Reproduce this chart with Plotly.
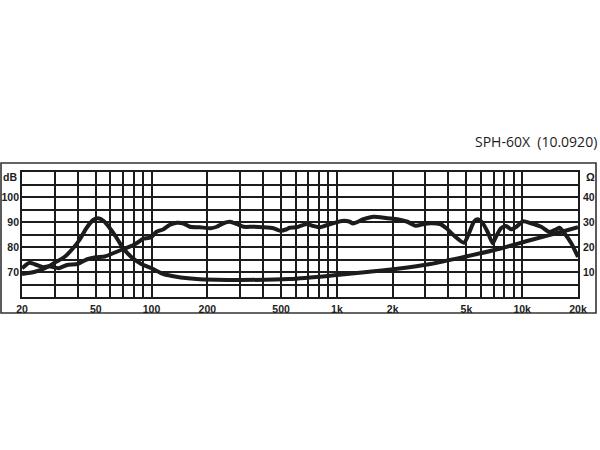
import plotly.graph_objects as go

# ---------------- data ----------------
spl_freq = [20, 22, 24, 26, 28, 31.5, 35, 40, 45, 50, 56, 62, 70, 79, 85, 90, 99, 106, 116, 125,
            137, 149, 161, 182, 208, 225, 244, 265, 288, 313, 355, 400, 455, 494, 536, 556, 606,
            687, 747, 813, 922, 1090, 1173, 1224, 1390, 1580, 1870, 2120, 2400, 2660, 2950, 3200,
            3600, 3900, 4250, 4850, 5160, 5490, 5730, 6100, 6500, 6930, 7220, 7680, 8180, 8720,
            9300, 10100, 11140, 12650, 14000, 15250, 15900, 16900, 18400, 20000]
spl_db = [71.5, 73.7, 72.8, 71.9, 72.3, 71.5, 72.8, 73.2, 75.1, 75.9, 76.2, 77.5, 79.1, 80.6, 82.0,
          83.3, 83.8, 86.0, 87.1, 88.8, 89.7, 89.4, 88.1, 87.9, 87.5, 88.1, 89.5, 90.1, 89.2, 88.1,
          88.1, 87.9, 87.5, 86.5, 87.1, 87.7, 87.9, 89.2, 88.4, 87.9, 89.2, 90.5, 90.1, 89.4, 91.1,
          92.1, 91.5, 91.1, 90.1, 88.5, 89.2, 89.5, 89.2, 87.5, 84.8, 81.7, 85.5, 90.1, 91.1, 89.7,
          86.1, 81.5, 84.1, 87.5, 88.4, 87.1, 88.1, 90.3, 89.5, 88.1, 86.1, 87.1, 87.7, 85.5, 81.5,
          76.0]

imp_freq = [20, 23.5, 26.6, 30, 34, 37.7, 41, 44.5, 48.4, 51.5, 55, 59.6, 65, 70, 77.5, 88, 100,
            116, 136, 175, 225, 300, 556, 1000, 1500, 2120, 3200, 4850, 7350, 11140, 16900, 20000]
imp_ohm = [9.2, 10.1, 11.5, 13.7, 16.1, 19.5, 23.0, 27.5, 30.8, 31.5, 30.5, 27.5, 23.5, 19.7, 16.1,
           13.2, 11.5, 9.2, 8.1, 7.2, 6.9, 6.8, 7.2, 8.8, 10.1, 11.3, 13.2, 16.0, 19.1, 22.8, 26.4,
           27.9]

grid_freqs = [20, 30, 40, 50, 60, 70, 80, 90, 100, 200, 300, 400, 500, 600, 700, 800, 900,
              1000, 2000, 3000, 4000, 5000, 6000, 7000, 8000, 9000, 10000, 20000]
freq_labels = {20: "20", 50: "50", 100: "100", 200: "200", 500: "500", 1000: "1k",
               2000: "2k", 5000: "5k", 10000: "10k", 20000: "20k"}
db_ticks = [60, 65, 70, 75, 80, 85, 90, 95, 100, 105, 110]
db_labels = {70: "70", 80: "80", 90: "90", 100: "100"}
ohm_ticks = [10, 20, 30, 40]
title_text = "SPH-60X  (10.0920)"

# ---------------- figure ----------------
INK = "#1c1c1c"
FONT = "Open Sans"
LAB = "Liberation Sans, Arial, sans-serif"
TICKFONT = dict(size=10.5, family=LAB, weight="bold", color=INK)

fig = go.Figure()
fig.add_trace(go.Scatter(x=spl_freq, y=spl_db, mode="lines",
                         line=dict(color=INK, width=4, shape="spline", smoothing=0.6),
                         hoverinfo="skip", showlegend=False))
fig.add_trace(go.Scatter(x=imp_freq, y=imp_ohm, mode="lines", yaxis="y2",
                         line=dict(color=INK, width=4, shape="spline", smoothing=0.8),
                         hoverinfo="skip", showlegend=False))

fig.update_layout(
    width=600, height=450,
    margin=dict(l=22, r=22, t=172, b=153),
    paper_bgcolor="white", plot_bgcolor="white",
    font=dict(family=FONT, color=INK),
    xaxis=dict(type="log", range=[1.30103, 4.30103], automargin=False,
               tickvals=grid_freqs, ticktext=[freq_labels.get(f, "") for f in grid_freqs],
               showgrid=True, gridcolor=INK, gridwidth=1.5, zeroline=False,
               showline=True, linecolor=INK, linewidth=1.8, mirror=True,
               ticks="", ticklabelstandoff=1, tickfont=TICKFONT),
    yaxis=dict(range=[60, 110], tickvals=db_ticks, automargin=False,
               ticktext=[db_labels.get(v, "") for v in db_ticks],
               showgrid=True, gridcolor=INK, gridwidth=1.5, zeroline=False,
               showline=True, linecolor=INK, linewidth=1.8, mirror=True,
               ticks="", ticklabelstandoff=-1, tickfont=TICKFONT),
    yaxis2=dict(range=[0, 50], overlaying="y", side="right", tickvals=ohm_ticks,
                automargin=False,
                showgrid=False, zeroline=False, showline=False, ticks="",
                ticklabelstandoff=4, tickfont=TICKFONT),
)

# outer frame
fig.add_shape(type="rect", xref="paper", yref="paper",
              x0=-21 / 556, x1=(596 - 22) / 556, y0=(297 - 313) / 125, y1=(297 - 163) / 125,
              line=dict(color="#333333", width=1.6), fillcolor="rgba(0,0,0,0)", layer="below")

# axis unit labels
fig.add_annotation(xref="paper", yref="paper", x=-3 / 556, y=(297 - 176.5) / 125,
                   text="dB", showarrow=False, xanchor="right", yanchor="middle",
                   font=dict(size=10.5, family=LAB, weight="bold", color=INK))
fig.add_annotation(xref="paper", yref="paper", x=(584 - 22) / 556, y=(297 - 176.5) / 125,
                   text="Ω", showarrow=False, xanchor="left", yanchor="middle",
                   font=dict(size=11, family=LAB, weight="bold", color=INK))
# title
fig.add_annotation(xref="paper", yref="paper", x=(599 - 22) / 556, y=(297 - 141) / 125,
                   text=title_text, showarrow=False, xanchor="right", yanchor="middle",
                   font=dict(size=14, family=FONT, color=INK))

fig.write_html("out.html", config={"displayModeBar": False},
               post_script="document.body.style.margin='0';document.body.style.overflow='hidden';")
